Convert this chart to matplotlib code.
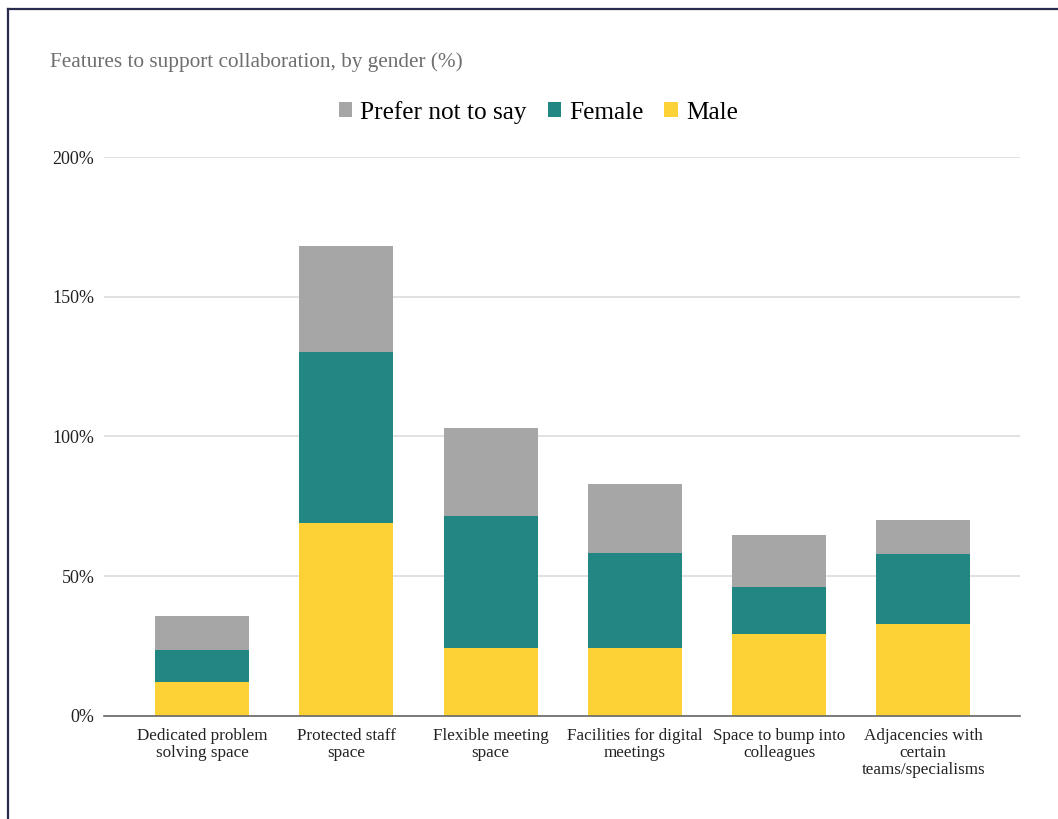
import matplotlib.pyplot as plt
from matplotlib.lines import Line2D
from matplotlib.ticker import FuncFormatter

categories = [
    "Dedicated problem\nsolving space",
    "Protected staff\nspace",
    "Flexible meeting\nspace",
    "Facilities for digital\nmeetings",
    "Space to bump into\ncolleagues",
    "Adjacencies with\ncertain\nteams/specialisms",
]
male = [12, 69, 24.3, 24.3, 29.3, 32.9]
female = [11.7, 61.2, 47.3, 34.0, 16.9, 25.1]
prefer_not = [12.1, 38.0, 31.4, 24.7, 18.6, 12.1]

COLORS = {"Male": "#FDD237", "Female": "#228783", "Prefer not to say": "#A6A6A6"}
FONT = "Liberation Serif"

plt.rcParams["font.family"] = [FONT, "DejaVu Serif"]

fig = plt.figure(figsize=(10.58, 8.19), dpi=100)
ax = fig.add_axes([0.0983, 0.1258, 0.8657, 0.6825])

x = list(range(len(categories)))
width = 0.652
female_bottom = male
pnts_bottom = [m + f for m, f in zip(male, female)]

ax.bar(x, male, width, color=COLORS["Male"], label="Male", zorder=3)
ax.bar(x, female, width, bottom=female_bottom, color=COLORS["Female"], label="Female", zorder=3)
ax.bar(x, prefer_not, width, bottom=pnts_bottom, color=COLORS["Prefer not to say"],
       label="Prefer not to say", zorder=3)

ax.set_xlim(-0.68, 5.67)
ax.set_ylim(0, 200)
ax.set_yticks([0, 50, 100, 150, 200])
ax.yaxis.set_major_formatter(FuncFormatter(lambda v, _: f"{v:.0f}%"))
ax.set_xticks(x)
ax.set_xticklabels(categories, fontsize=12.3, color="#222222", linespacing=1.05)
ax.tick_params(axis="y", length=0, pad=7, labelsize=13, labelcolor="#222222")
ax.tick_params(axis="x", length=0, pad=9)

ax.grid(axis="y", color="#D9D9D9", linewidth=1.1, zorder=0)
for side in ["top", "right", "left"]:
    ax.spines[side].set_visible(False)
ax.spines["bottom"].set_color("#666666")
ax.spines["bottom"].set_linewidth(1.2)
ax.spines["bottom"].set_zorder(4)

# legend in reference order
handles, labels = ax.get_legend_handles_labels()
order = [2, 1, 0]
ax.legend([handles[i] for i in order], [labels[i] for i in order],
          loc="center", bbox_to_anchor=(0.474, 1.080), ncol=3, frameon=False,
          fontsize=18.2, handlelength=0.52, handleheight=0.52, handletextpad=0.33,
          columnspacing=0.83)

fig.text(50 / 1058, 1 - 62 / 819, "Features to support collaboration, by gender (%)",
         fontsize=15.3, color="#6E6E6E", va="center", ha="left")

# navy frame from the surrounding document
navy = "#2A2C4E"
fig.add_artist(Line2D([8 / 1058, 1], [1 - 9 / 819, 1 - 9 / 819], color=navy, lw=1.6))
fig.add_artist(Line2D([8 / 1058, 8 / 1058], [0, 1 - 9 / 819], color=navy, lw=1.6))

fig.savefig("out.png", dpi=100)
